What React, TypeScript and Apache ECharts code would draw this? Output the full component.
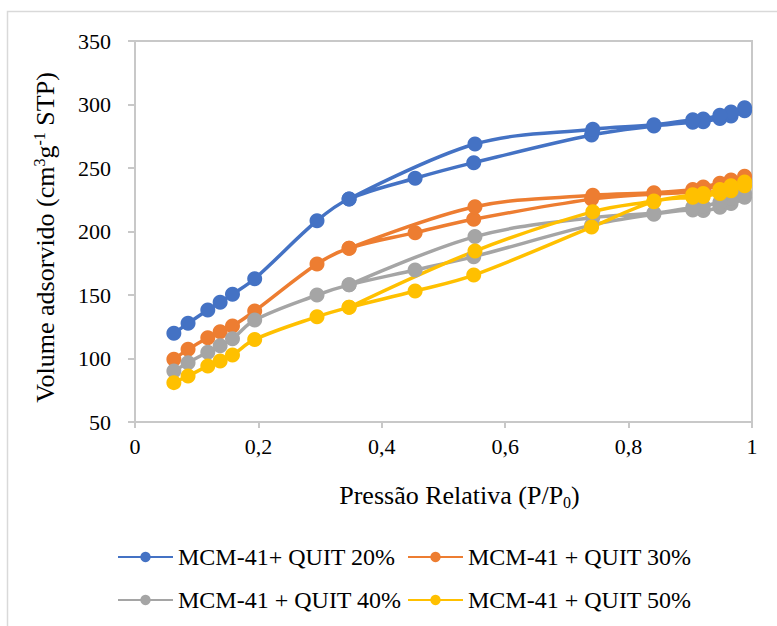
import React, { useEffect, useRef } from "react";
import * as echarts from "echarts";

const FONT = "Liberation Serif";

const seriesNames = [
  "MCM-41+ QUIT 20%",
  "MCM-41 + QUIT 30%",
  "MCM-41 + QUIT 40%",
  "MCM-41 + QUIT 50%",
];
const seriesColors = ["#4472C4", "#ED7D31", "#A5A5A5", "#FFC000"];

// relative pressure (P/P0), adsorption and desorption branches
const pAds = [0.063, 0.086, 0.118, 0.138, 0.158, 0.194, 0.295, 0.347, 0.454, 0.549, 0.74, 0.841, 0.904, 0.921, 0.948, 0.966, 0.988];
const pDes = [0.988, 0.966, 0.948, 0.921, 0.904, 0.841, 0.742, 0.551, 0.347];

const q20Ads = [119.8, 127.7, 138.2, 144.3, 150.6, 162.8, 208.5, 225.6, 241.9, 254.2, 276, 283, 286, 286.5, 289, 291, 295];
const q20Des = [297.5, 294, 291.5, 288.5, 288, 284, 280.5, 268.9, 225.6];

const q30Ads = [99.4, 107.2, 116.4, 121.1, 125.6, 137.4, 174.4, 186.8, 199.1, 209.6, 225.5, 229.5, 231, 233, 236, 238, 241];
const q30Des = [243.5, 240.5, 238, 235, 233, 230.5, 228.5, 219.5, 186.8];

const q40Ads = [90.2, 96.7, 105, 110, 115.6, 130.3, 150, 158, 169.7, 180.2, 205, 213.5, 217, 216.5, 219, 222, 227];
const q40Des = [230, 226, 223, 220, 219, 214.5, 211, 196, 158];

const q50Ads = [81, 86.2, 94, 98, 102.8, 115, 132.9, 140.3, 153.1, 165.7, 203.5, 223.5, 227, 227.5, 230, 232, 236];
const q50Des = [239, 236, 233, 230, 229, 224, 215.6, 184.6, 140.3];

const xTicks = { min: 0, max: 1, interval: 0.2 };
const yTicks = { min: 50, max: 350, interval: 50 };

const adsList = [q20Ads, q30Ads, q40Ads, q50Ads];
const desList = [q20Des, q30Des, q40Des, q50Des];

export default function App() {
  const ref = useRef<HTMLDivElement>(null);
  useEffect(() => {
    document.body.style.margin = "0";
    const chart = echarts.init(ref.current!, null, { renderer: "svg" });
    const axisGrey = "#c8c8c8";
    const series = seriesNames.map((name, k) => ({
      name,
      type: "line",
      smooth: 0.35,
      symbol: "circle",
      symbolSize: 15,
      lineStyle: { width: 3.5, color: seriesColors[k] },
      itemStyle: { color: seriesColors[k] },
      data: [
        ...pAds.map((p, i) => [p, adsList[k][i]]),
        ...pDes.map((p, i) => [p, desList[k][i]]),
      ],
    }));
    const legendBase = {
      orient: "vertical",
      top: 545,
      padding: 0,
      itemWidth: 55,
      itemHeight: 13,
      itemGap: 19,
      textStyle: { fontFamily: FONT, fontSize: 24, color: "#000", lineHeight: 24 },
    };
    chart.setOption({
      animation: false,
      backgroundColor: "#fff",
      textStyle: { fontFamily: FONT },
      graphic: [
        {
          type: "rect",
          shape: { x: 7.5, y: 11.5, width: 800, height: 700 },
          style: { fill: "none", stroke: "#d9d9d9", lineWidth: 1.5 },
          silent: true,
        },
      ],
      grid: {
        left: 135,
        right: 25,
        top: 41,
        bottom: 204,
        show: true,
        borderColor: axisGrey,
        borderWidth: 2,
      },
      legend: [
        { ...legendBase, left: 117, data: [seriesNames[0], seriesNames[2]] },
        { ...legendBase, left: 407, data: [seriesNames[1], seriesNames[3]] },
      ],
      xAxis: {
        type: "value",
        ...xTicks,
        axisLine: { show: true, lineStyle: { color: axisGrey, width: 2 } },
        axisTick: { show: true, length: 6, lineStyle: { color: axisGrey, width: 2 } },
        splitLine: { show: false },
        axisLabel: {
          fontFamily: FONT,
          fontSize: 22,
          color: "#000",
          margin: 13,
          formatter: (v: number) => String(Number(v.toFixed(1))).replace(".", ","),
        },
        name: "{a|Pressão Relativa (P/P}{sub|0}{a|)}",
        nameLocation: "middle",
        nameGap: 58,
        nameTextStyle: {
          padding: [0, 0, 0, 32],
          rich: {
            a: { fontFamily: FONT, fontSize: 26, color: "#000", lineHeight: 30 },
            sub: { fontFamily: FONT, fontSize: 16, color: "#000", lineHeight: 30, verticalAlign: "bottom" },
          },
        },
      },
      yAxis: {
        type: "value",
        ...yTicks,
        axisLine: { show: true, lineStyle: { color: axisGrey, width: 2 } },
        axisTick: { show: true, length: 7, lineStyle: { color: axisGrey, width: 2 } },
        splitLine: { show: false },
        axisLabel: { fontFamily: FONT, fontSize: 22, color: "#000", margin: 24 },
        name: "{a|Volume adsorvido (cm}{sup|3}{a|g}{sup|-1}{a| STP)}",
        nameLocation: "middle",
        nameRotate: 90,
        nameGap: 76,
        nameTextStyle: {
          padding: [0, 12, 0, 0],
          rich: {
            a: { fontFamily: FONT, fontSize: 26, color: "#000", lineHeight: 28 },
            sup: { fontFamily: FONT, fontSize: 16, color: "#000", lineHeight: 28, verticalAlign: "top" },
          },
        },
      },
      series,
    });
    return () => chart.dispose();
  }, []);
  return <div ref={ref} style={{ position: "fixed", left: 0, top: 0, width: 777, height: 626 }} />;
}
